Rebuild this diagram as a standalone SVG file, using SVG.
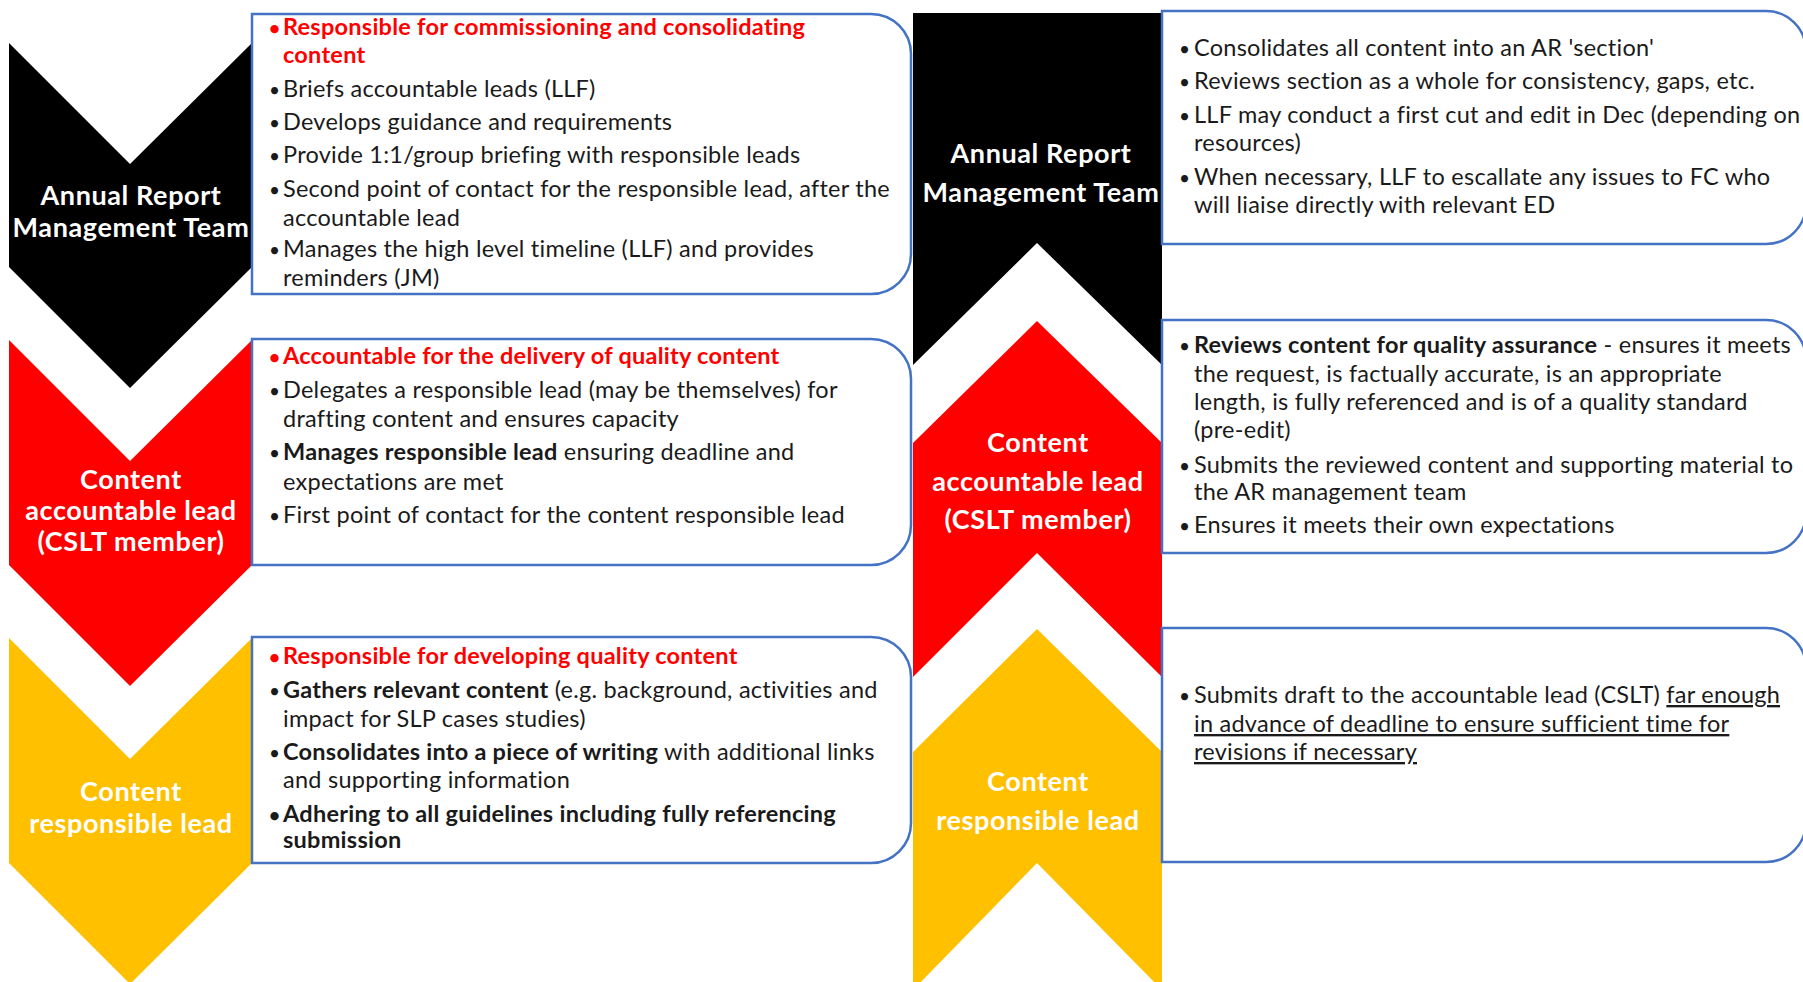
<svg xmlns="http://www.w3.org/2000/svg" width="1803" height="982" viewBox="0 0 1803 982">
<style>
.lbl{font-family:Lato,"Open Sans",sans-serif;font-weight:700;font-size:27px;letter-spacing:0.6px;fill:#fff;text-anchor:middle}
.t{font-family:Lato,"Open Sans",sans-serif;font-size:23.5px;letter-spacing:0.25px;fill:#1a1a1a}
.bu{font-size:19px}
.b{font-weight:700}
.red{fill:#ff0000;font-weight:700}
.u{text-decoration:underline}
.box{fill:#fff;stroke:#4472c4;stroke-width:2.5}
.k{fill:#000}.r{fill:#ff0000}.y{fill:#ffc000}
</style>
<rect width="1803" height="982" fill="#fff"/>
<g id="connectors"/>
<!-- Left column -->
<g id="left-mgmt">
<path class="k" d="M9,43 L130,164 L252,43 L252,267 L130,388 L9,267 Z"/>
<text class="lbl" x="131" y="205">Annual Report</text>
<text class="lbl" x="131" y="237">Management Team</text>
</g>
<g id="left-acc">
<path class="r" d="M9,340 L130,461 L252,340 L252,565 L130,686 L9,565 Z"/>
<text class="lbl" x="131" y="489">Content</text>
<text class="lbl" x="131" y="520">accountable lead</text>
<text class="lbl" x="131" y="551">(CSLT member)</text>
</g>
<g id="left-resp">
<path class="y" d="M9,638 L130,759 L252,638 L252,863 L130,984 L9,863 Z"/>
<text class="lbl" x="131" y="801">Content</text>
<text class="lbl" x="131" y="833">responsible lead</text>
</g>
<g id="left-mgmt-box">
<path class="box" d="M252,14 H871 A40,40 0 0 1 911,54 V254 A40,40 0 0 1 871,294 H252 Z"/>
<text class="t red" y="35"><tspan class="bu" x="269">•</tspan><tspan x="283">Responsible for commissioning and consolidating</tspan></text>
<text class="t red" x="283" y="63">content</text>
<text class="t" y="97"><tspan class="bu" x="269">•</tspan><tspan x="283">Briefs accountable leads (LLF)</tspan></text>
<text class="t" y="130"><tspan class="bu" x="269">•</tspan><tspan x="283">Develops guidance and requirements</tspan></text>
<text class="t" y="163"><tspan class="bu" x="269">•</tspan><tspan x="283">Provide 1:1/group briefing with responsible leads</tspan></text>
<text class="t" y="197"><tspan class="bu" x="269">•</tspan><tspan x="283">Second point of contact for the responsible lead, after the</tspan></text>
<text class="t" x="283" y="226">accountable lead</text>
<text class="t" y="257"><tspan class="bu" x="269">•</tspan><tspan x="283">Manages the high level timeline (LLF) and provides</tspan></text>
<text class="t" x="283" y="286">reminders (JM)</text>
</g>
<g id="left-acc-box">
<path class="box" d="M252,339 H871 A40,40 0 0 1 911,379 V525 A40,40 0 0 1 871,565 H252 Z"/>
<text class="t red" y="364"><tspan class="bu" x="269">•</tspan><tspan x="283">Accountable for the delivery of quality content</tspan></text>
<text class="t" y="398"><tspan class="bu" x="269">•</tspan><tspan x="283">Delegates a responsible lead (may be themselves) for</tspan></text>
<text class="t" x="283" y="427">drafting content and ensures capacity</text>
<text class="t" y="460"><tspan class="bu" x="269">•</tspan><tspan x="283" class="b">Manages responsible lead</tspan> ensuring deadline and</text>
<text class="t" x="283" y="490">expectations are met</text>
<text class="t" y="523"><tspan class="bu" x="269">•</tspan><tspan x="283">First point of contact for the content responsible lead</tspan></text>
</g>
<g id="left-resp-box">
<path class="box" d="M252,637 H871 A40,40 0 0 1 911,677 V823 A40,40 0 0 1 871,863 H252 Z"/>
<text class="t red" y="664"><tspan class="bu" x="269">•</tspan><tspan x="283">Responsible for developing quality content</tspan></text>
<text class="t" y="698"><tspan class="bu" x="269">•</tspan><tspan x="283" class="b">Gathers relevant content</tspan> (e.g. background, activities and</text>
<text class="t" x="283" y="727">impact for SLP cases studies)</text>
<text class="t" y="760"><tspan class="bu" x="269">•</tspan><tspan x="283" class="b">Consolidates into a piece of writing</tspan> with additional links</text>
<text class="t" x="283" y="788">and supporting information</text>
<text class="t b" y="822"><tspan class="bu" x="269">•</tspan><tspan x="283">Adhering to all guidelines including fully referencing</tspan></text>
<text class="t b" x="283" y="848">submission</text>
</g>
<!-- Right column -->
<g id="right-mgmt">
<path class="k" d="M913,13 L1162,13 L1162,365 L1037,243 L913,365 Z"/>
<text class="lbl" x="1041" y="163">Annual Report</text>
<text class="lbl" x="1041" y="202">Management Team</text>
</g>
<g id="right-acc">
<path class="r" d="M1037,321 L1162,443 L1162,677 L1037,553 L913,677 L913,443 Z"/>
<text class="lbl" x="1038" y="452">Content</text>
<text class="lbl" x="1038" y="491">accountable lead</text>
<text class="lbl" x="1038" y="529">(CSLT member)</text>
</g>
<g id="right-resp">
<path class="y" d="M1037,629 L1162,752 L1162,990 L1037,863 L913,990 L913,752 Z"/>
<text class="lbl" x="1038" y="791">Content</text>
<text class="lbl" x="1038" y="830">responsible lead</text>
</g>
<g id="right-mgmt-box">
<path class="box" d="M1162,11 H1766 A40,40 0 0 1 1806,51 V204 A40,40 0 0 1 1766,244 H1162 Z"/>
<text class="t" y="56"><tspan class="bu" x="1179">•</tspan><tspan x="1194">Consolidates all content into an AR 'section'</tspan></text>
<text class="t" y="89"><tspan class="bu" x="1179">•</tspan><tspan x="1194">Reviews section as a whole for consistency, gaps, etc.</tspan></text>
<text class="t" y="123"><tspan class="bu" x="1179">•</tspan><tspan x="1194">LLF may conduct a first cut and edit in Dec (depending on</tspan></text>
<text class="t" x="1194" y="151">resources)</text>
<text class="t" y="185"><tspan class="bu" x="1179">•</tspan><tspan x="1194">When necessary, LLF to escallate any issues to FC who</tspan></text>
<text class="t" x="1194" y="213">will liaise directly with relevant ED</text>
</g>
<g id="right-acc-box">
<path class="box" d="M1162,320 H1766 A40,40 0 0 1 1806,360 V513 A40,40 0 0 1 1766,553 H1162 Z"/>
<text class="t" y="353"><tspan class="bu" x="1179">•</tspan><tspan x="1194" class="b">Reviews content for quality assurance</tspan> - ensures it meets</text>
<text class="t" x="1194" y="382">the request, is factually accurate, is an appropriate</text>
<text class="t" x="1194" y="410">length, is fully referenced and is of a quality standard</text>
<text class="t" x="1194" y="438">(pre-edit)</text>
<text class="t" y="473"><tspan class="bu" x="1179">•</tspan><tspan x="1194">Submits the reviewed content and supporting material to</tspan></text>
<text class="t" x="1194" y="500">the AR management team</text>
<text class="t" y="533"><tspan class="bu" x="1179">•</tspan><tspan x="1194">Ensures it meets their own expectations</tspan></text>
</g>
<g id="right-resp-box">
<path class="box" d="M1162,628 H1766 A40,40 0 0 1 1806,668 V822 A40,40 0 0 1 1766,862 H1162 Z"/>
<text class="t" y="703"><tspan class="bu" x="1179">•</tspan><tspan x="1194">Submits draft to the accountable lead (CSLT) </tspan><tspan class="u">far enough</tspan></text>
<text class="t u" x="1194" y="732">in advance of deadline to ensure sufficient time for</text>
<text class="t u" x="1194" y="760">revisions if necessary</text>
</g>
</svg>
